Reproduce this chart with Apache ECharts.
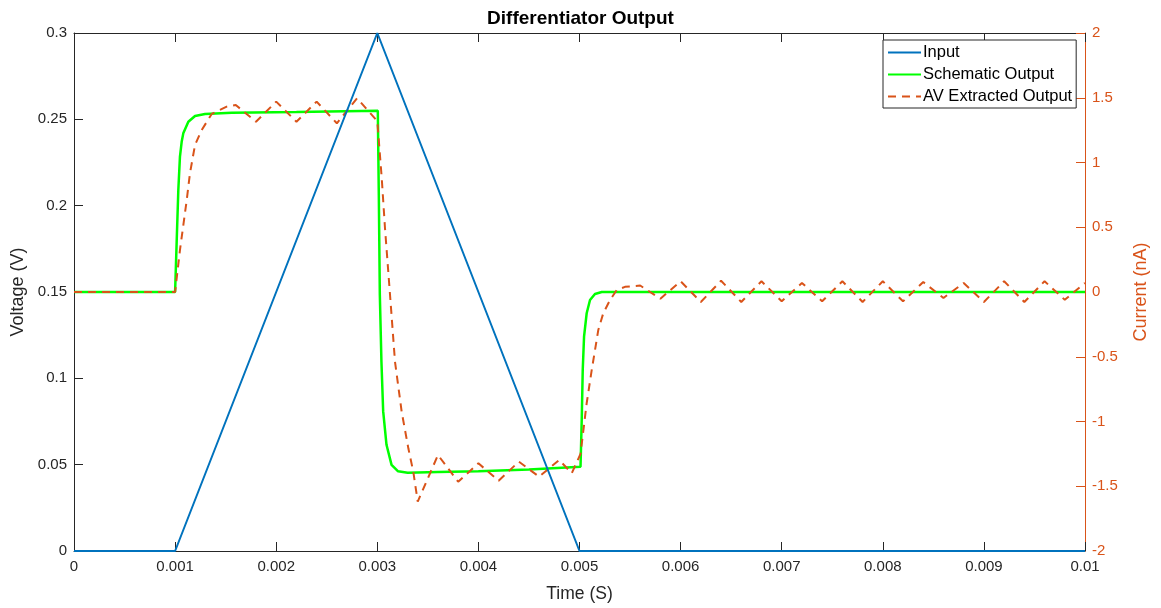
<!DOCTYPE html>
<html>
<head>
<meta charset="utf-8">
<title>Differentiator Output</title>
<script src="https://cdn.jsdelivr.net/npm/echarts@6/dist/echarts.min.js"></script>
<style>
  html, body { margin: 0; padding: 0; background: #ffffff; }
  #chart { width: 1161px; height: 608px; }
</style>
</head>
<body>
<div id="chart"></div>
<script>
// Triangle input voltage (V)
const inputTime = [0, 0.001, 0.003, 0.005, 0.01];
const inputVoltage = [0, 0, 0.3, 0, 0];

// Schematic-level differentiator output current (nA)
const schematicTime = [
  0, 0.001, 0.001008, 0.001016, 0.001032, 0.001048, 0.001065, 0.001081, 0.001131,
  0.001197, 0.001296, 0.00156, 0.0022, 0.003005,
  0.003015, 0.003025, 0.003041, 0.003058, 0.003091, 0.003141, 0.003206, 0.0033,
  0.0036, 0.004, 0.0045, 0.00501,
  0.005022, 0.005032, 0.005045, 0.005071, 0.005104, 0.005153, 0.00522, 0.01
];
const schematicCurrent = [
  0, 0, 0.2, 0.40, 0.79, 1.045, 1.16, 1.225, 1.315,
  1.359, 1.375, 1.385, 1.39, 1.40,
  0.75, -0.02, -0.54, -0.92, -1.18, -1.335, -1.385, -1.395,
  -1.39, -1.385, -1.37, -1.349,
  -0.988, -0.602, -0.345, -0.164, -0.062, -0.015, 0, 0
];

// AV-extracted model output current (nA)
const extractedTime = [
  0, 0.001, 0.001016, 0.001048, 0.001115, 0.001147, 0.001197, 0.001263, 0.001362,
  0.00151, 0.0016, 0.0018, 0.002, 0.0022, 0.0024, 0.0026, 0.0028, 0.003,
  0.003044, 0.003076, 0.003126, 0.003175, 0.003241, 0.003307, 0.003356, 0.0034,
  0.0036, 0.0038, 0.004, 0.0042, 0.0044, 0.0046, 0.0048, 0.004923,
  0.00501, 0.005071, 0.005121, 0.005186, 0.005235, 0.005302, 0.005368, 0.00545,
  0.0056, 0.0058, 0.006, 0.0062, 0.0064, 0.0066, 0.0068, 0.007, 0.0072, 0.0074,
  0.0076, 0.0078, 0.008, 0.0082, 0.0084, 0.0086, 0.0088, 0.009, 0.0092, 0.0094,
  0.0096, 0.0098, 0.01
];
const extractedCurrent = [
  0, 0, 0.015, 0.324, 0.71, 0.917, 1.135, 1.251, 1.375,
  1.431, 1.444, 1.315, 1.47, 1.315, 1.47, 1.303, 1.496, 1.32,
  0.878, 0.494, -0.023, -0.538, -0.924, -1.207, -1.388, -1.619,
  -1.259, -1.465, -1.323, -1.457, -1.31, -1.426, -1.297, -1.40,
  -1.25, -0.859, -0.602, -0.293, -0.164, -0.062, 0.015, 0.04,
  0.05, -0.052, 0.083, -0.077, 0.087, -0.077, 0.083, -0.072, 0.07, -0.072,
  0.083, -0.077, 0.083, -0.072, 0.077, -0.046, 0.07, -0.077, 0.083, -0.077,
  0.083, -0.06, 0.07
];

const seriesNames = ['Input', 'Schematic Output', 'AV Extracted Output'];

const zip = (xs, ys) => xs.map((x, i) => [x, ys[i]]);

const FONT = '"Liberation Sans", Arial, Helvetica, sans-serif';
const AXIS_DARK = '#262626';
const ORANGE = '#D95319';
const BLUE = '#0072BD';
const GREEN = '#00FF00';

const fmt = v => String(Number(v.toFixed(4)));

const chart = echarts.init(document.getElementById('chart'), null, { renderer: 'canvas' });

chart.setOption({
  backgroundColor: '#ffffff',
  animation: false,
  textStyle: { fontFamily: FONT },
  title: {
    text: 'Differentiator Output',
    left: 'center',
    top: 4,
    textStyle: { fontFamily: FONT, fontSize: 19, fontWeight: 'bold', color: '#000000' }
  },
  legend: {
    data: seriesNames,
    orient: 'vertical',
    left: 883,
    top: 40,
    backgroundColor: '#ffffff',
    borderColor: AXIS_DARK,
    borderWidth: 1,
    borderRadius: 0,
    padding: [4, 4, 3, 4],
    itemWidth: 33,
    itemHeight: 16,
    itemGap: 5,
    itemStyle: { opacity: 0 },
    textStyle: { fontFamily: FONT, fontSize: 16.5, color: '#000000', padding: [0, 0, 0, -3] }
  },
  grid: { left: 74, right: 76, top: 33, bottom: 57, containLabel: false },
  xAxis: [
    {
      type: 'value',
      min: 0,
      max: 0.01,
      interval: 0.001,
      position: 'bottom',
      name: 'Time (S)',
      nameLocation: 'middle',
      nameGap: 34,
      nameTextStyle: { fontFamily: FONT, fontSize: 17.5, color: AXIS_DARK },
      axisLine: { show: true, onZero: false, lineStyle: { color: AXIS_DARK, width: 1 } },
      axisTick: { show: true, inside: true, length: 9, lineStyle: { color: AXIS_DARK } },
      axisLabel: { formatter: fmt, fontFamily: FONT, fontSize: 15, color: AXIS_DARK, margin: 8 },
      splitLine: { show: false }
    },
    {
      type: 'value',
      min: 0,
      max: 0.01,
      interval: 0.001,
      position: 'top',
      axisLine: { show: true, onZero: false, lineStyle: { color: AXIS_DARK, width: 1 } },
      axisTick: { show: true, inside: true, length: 9, lineStyle: { color: AXIS_DARK } },
      axisLabel: { show: false },
      splitLine: { show: false }
    }
  ],
  yAxis: [
    {
      type: 'value',
      min: 0,
      max: 0.3,
      interval: 0.05,
      position: 'left',
      name: 'Voltage (V)',
      nameLocation: 'middle',
      nameGap: 45,
      nameTextStyle: { fontFamily: FONT, fontSize: 18, color: AXIS_DARK },
      axisLine: { show: true, onZero: false, lineStyle: { color: AXIS_DARK, width: 1 } },
      axisTick: { show: true, inside: true, length: 9, lineStyle: { color: AXIS_DARK } },
      axisLabel: { formatter: fmt, fontFamily: FONT, fontSize: 15, color: AXIS_DARK, margin: 7 },
      splitLine: { show: false }
    },
    {
      type: 'value',
      min: -2,
      max: 2,
      interval: 0.5,
      position: 'right',
      name: 'Current (nA)',
      nameLocation: 'middle',
      nameGap: 47,
      nameTextStyle: { fontFamily: FONT, fontSize: 18, color: ORANGE },
      axisLine: { show: true, onZero: false, lineStyle: { color: ORANGE, width: 1 } },
      axisTick: { show: true, inside: true, length: 9, lineStyle: { color: ORANGE } },
      axisLabel: { formatter: fmt, fontFamily: FONT, fontSize: 15, color: ORANGE, margin: 7 },
      splitLine: { show: false }
    }
  ],
  series: [
    {
      name: seriesNames[1],
      type: 'line',
      xAxisIndex: 0,
      yAxisIndex: 1,
      data: zip(schematicTime, schematicCurrent),
      showSymbol: false,
      symbol: 'none',
      smooth: false,
      z: 3,
      itemStyle: { color: GREEN },
      lineStyle: { color: GREEN, width: 2.5 }
    },
    {
      name: seriesNames[2],
      type: 'line',
      xAxisIndex: 0,
      yAxisIndex: 1,
      data: zip(extractedTime, extractedCurrent),
      showSymbol: false,
      symbol: 'none',
      smooth: false,
      z: 4,
      itemStyle: { color: ORANGE },
      lineStyle: { color: ORANGE, width: 2, type: [8, 6] }
    },
    {
      name: seriesNames[0],
      type: 'line',
      xAxisIndex: 0,
      yAxisIndex: 0,
      data: zip(inputTime, inputVoltage),
      showSymbol: false,
      symbol: 'none',
      smooth: false,
      z: 5,
      itemStyle: { color: BLUE },
      lineStyle: { color: BLUE, width: 2 }
    }
  ]
});
</script>
</body>
</html>
